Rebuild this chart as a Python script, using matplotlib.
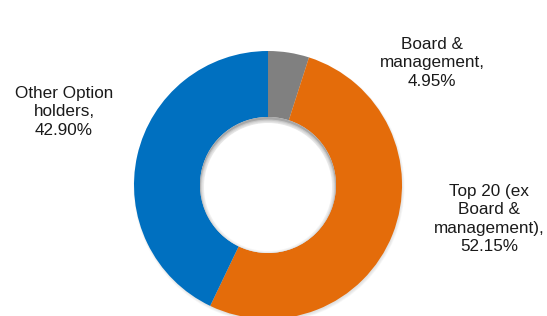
import matplotlib.pyplot as plt
from matplotlib.patches import Circle

# data
labels = ['Board &\nmanagement,\n4.95%', 'Top 20 (ex\nBoard &\nmanagement),\n52.15%',
          'Other Option\nholders,\n42.90%']
values = [4.95, 52.15, 42.90]
colors = ['#808080', '#E46C0A', '#0070C0']

plt.rcParams['font.family'] = ['Liberation Sans', 'DejaVu Sans']

fig = plt.figure(figsize=(5.47, 3.16), dpi=100)
ax = fig.add_axes([0, 0, 1, 1])

cx, cy, r = 268, 316 - 185, 134
r_in = 68

# faint drop shadow under the ring
for i in range(4):
    ax.add_patch(Circle((cx + 1, cy - 2), r + 1.5 - i * 0.8, color='#bbbbbb', alpha=0.12, lw=0, zorder=0))

ax.pie(values, colors=colors, startangle=90, counterclock=False,
       center=(cx, cy), radius=r, wedgeprops=dict(width=r - r_in, linewidth=0),
       frame=True)
ax.set_xlim(0, 547)
ax.set_ylim(0, 316)
ax.set_aspect('equal')
ax.axis('off')

# hole with soft inner shadow at the top
hole = Circle((cx, cy), r_in, color='#a8a8a8', lw=0, zorder=3)
ax.add_patch(hole)
for i in range(6):
    c = Circle((cx, cy - 3.5 + i * 0.3), r_in - 5 + i * 0.9, color='white', alpha=0.35, lw=0, zorder=4)
    ax.add_patch(c)
    c.set_clip_path(hole)
c = Circle((cx, cy - 2), r_in - 4, color='white', lw=0, zorder=5)
ax.add_patch(c)
c.set_clip_path(hole)

label_pos = [(432, 316 - 63), (489, 316 - 219), (64, 316 - 112)]
for txt, (x, y) in zip(labels, label_pos):
    ax.text(x, y, txt, ha='center', va='center', fontsize=12.3, linespacing=1.3, color='#1a1a1a')

fig.savefig('out.png', dpi=100)
